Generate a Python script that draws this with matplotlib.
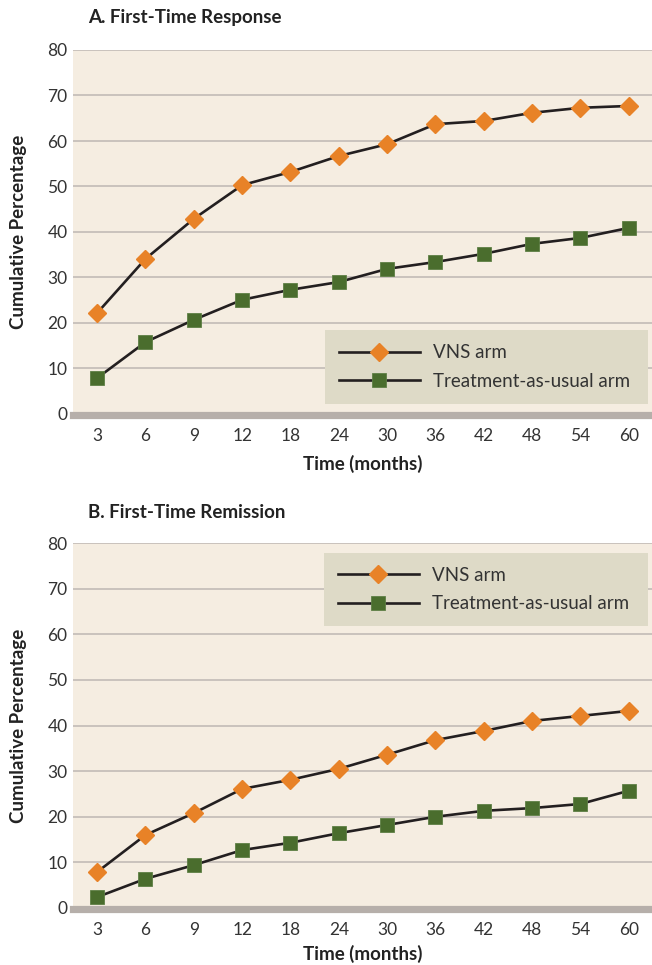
import numpy as np
import matplotlib
matplotlib.use('Agg')
import matplotlib.pyplot as plt

plt.rcParams['font.family'] = ['Lato', 'DejaVu Sans']

# DATOS
meses = ['3', '6', '9', '12', '18', '24', '30', '36', '42', '48', '54', '60']

resp_vns = [22.2, 34.1, 42.9, 50.3, 53.2, 56.7, 59.3, 63.7, 64.4, 66.2, 67.3, 67.7]
resp_tau = [7.9, 15.8, 20.7, 25.1, 27.3, 29.0, 31.9, 33.4, 35.2, 37.4, 38.7, 40.9]

rem_vns = [7.9, 16.0, 20.8, 26.1, 28.1, 30.5, 33.6, 36.8, 38.8, 41.0, 42.1, 43.2]
rem_tau = [2.4, 6.4, 9.4, 12.7, 14.3, 16.4, 18.2, 20.0, 21.3, 21.9, 22.8, 25.7]

titulos = ['A. First-Time Response', 'B. First-Time Remission']
etiquetas = ['VNS arm', 'Treatment-as-usual arm']

# colores
fondo = '#F5EDE1'
rejilla = '#C6BFBA'
banda = '#B6AFAA'
naranja = '#E88227'
verde = '#4A6D2D'
linea = '#231F20'
texto = '#333333'

W, H = 652, 965
fig = plt.figure(figsize=(W / 100, H / 100), dpi=100)

# posiciones en pixeles: (top80, cero)
paneles = [(50, 414), (543, 908)]
izq, der = 73, 653

x = np.arange(len(meses))
series = [(resp_vns, resp_tau), (rem_vns, rem_tau)]
legend_pos = [(325, 330, 648, 404), (324, 553, 648, 626)]
xlabel_off = [50, 46]

for k, ((ytop, ycero), (vns, tau)) in enumerate(zip(paneles, series)):
    alto = ycero - ytop
    ax = fig.add_axes([izq / W, 1 - ycero / H, (der - izq) / W, alto / H])
    ax.set_facecolor(fondo)
    ax.set_xlim(-0.5, len(meses) - 0.5)
    ax.set_ylim(0, 80)
    for s in ax.spines.values():
        s.set_visible(False)
    for v in range(10, 81, 10):
        ax.axhline(v, color=rejilla, lw=1.3, zorder=1)
    ax.axhline(-0.2, color=banda, lw=5.2, zorder=1, clip_on=False)

    ax.plot(x, vns, color=linea, lw=1.9, marker='D', markersize=9.5,
            markerfacecolor=naranja, markeredgecolor=naranja, label=etiquetas[0], zorder=3)
    ax.plot(x, tau, color=linea, lw=1.9, marker='s', markersize=10,
            markerfacecolor=verde, markeredgecolor='#5E7F45', markeredgewidth=0.6,
            label=etiquetas[1], zorder=3)

    ax.set_xticks(x)
    ax.set_xticklabels(meses)
    ax.set_yticks(range(0, 81, 10))
    ax.tick_params(length=0, labelsize=12.5, colors=texto, pad=4)
    ax.tick_params(axis='x', pad=10)
    ax.set_xlabel('Time (months)', fontsize=13.5, fontweight='bold', color='#222222')
    ax.set_ylabel('Cumulative Percentage', fontsize=13.5, fontweight='bold', color='#222222')
    ax.xaxis.set_label_coords(0.5, -xlabel_off[k] / alto)
    ax.xaxis.label.set_va('center')
    ax.yaxis.set_label_coords((18 - izq) / (der - izq), 0.5)
    ax.yaxis.label.set_va('center')

    fig.text(88 / W, 1 - (18 + 495 * k) / H, titulos[k], fontsize=13.5, fontweight='bold',
             color='#222222', va='center', ha='left')

    lx0, ly0, lx1, ly1 = legend_pos[k]
    leg = ax.legend(loc='center', bbox_to_anchor=(lx0 / W, 1 - ly1 / H, (lx1 - lx0) / W, (ly1 - ly0) / H),
                    bbox_transform=fig.transFigure, mode='expand', numpoints=1,
                    handlelength=4.3, handletextpad=0.7, borderpad=0.75, labelspacing=0.62,
                    fontsize=13.5, frameon=True, fancybox=False, borderaxespad=0)
    leg.get_frame().set_facecolor('#DEDAC7')
    leg.get_frame().set_edgecolor('none')
    leg.get_frame().set_alpha(1)
    for t in leg.get_texts():
        t.set_color(texto)

fig.savefig('out.png', dpi=100, facecolor='white')
